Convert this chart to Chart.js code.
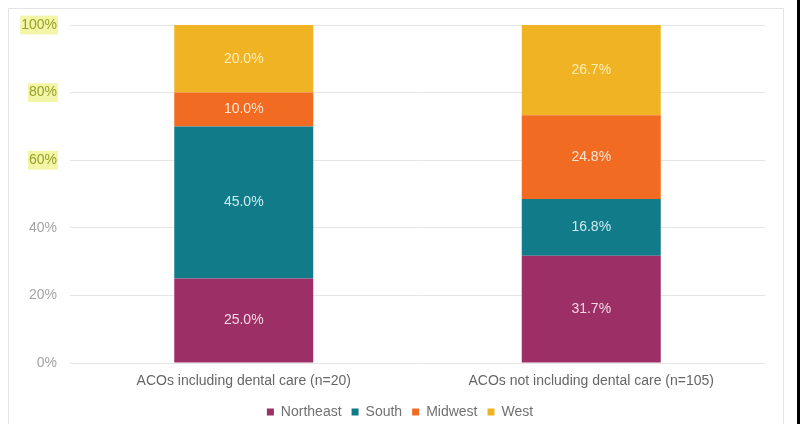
<!DOCTYPE html>
<html>
<head>
<meta charset="utf-8">
<script src="https://cdn.jsdelivr.net/npm/chart.js@4.4.1/dist/chart.umd.min.js"></script>
<style>
  html, body { margin: 0; padding: 0; background: #fff; }
  #wrap { width: 800px; height: 424px; position: relative; }
</style>
</head>
<body>
<div id="wrap"><canvas id="c" width="800" height="424"></canvas></div>
<script>
const categories = ['ACOs including dental care (n=20)', 'ACOs not including dental care (n=105)'];
const seriesNames = ['Northeast', 'South', 'Midwest', 'West'];
const northeast = [25.0, 31.7];
const south = [45.0, 16.8];
const midwest = [10.0, 24.8];
const west = [20.0, 26.7];
const yTicks = [0, 20, 40, 60, 80, 100];

const colors = ['#9B2F66', '#117B8A', '#F26B22', '#F0B323'];
const labelColors = ['rgba(255,235,245,0.9)', 'rgba(225,250,250,0.9)', 'rgba(255,240,225,0.92)', 'rgba(255,245,200,0.9)'];
const seriesValues = [northeast, south, midwest, west];

const FONT = '"Liberation Sans", Arial, sans-serif';

const framePlugin = {
  id: 'frame',
  beforeDraw(chart) {
    const ctx = chart.ctx;
    ctx.save();
    ctx.fillStyle = '#ffffff';
    ctx.fillRect(0, 0, chart.width, chart.height);
    ctx.strokeStyle = '#e4e4e4';
    ctx.lineWidth = 1;
    ctx.beginPath();
    ctx.moveTo(8.5, 430);
    ctx.lineTo(8.5, 8.5);
    ctx.lineTo(783.5, 8.5);
    ctx.lineTo(783.5, 430);
    ctx.stroke();
    ctx.fillStyle = '#000000';
    ctx.fillRect(797, 0, 3, chart.height);
    ctx.restore();
  }
};

const valueLabels = {
  id: 'valueLabels',
  afterDatasetsDraw(chart) {
    const ctx = chart.ctx;
    ctx.save();
    ctx.font = '14px ' + FONT;
    ctx.textAlign = 'center';
    ctx.textBaseline = 'middle';
    chart.data.datasets.forEach((ds, di) => {
      const meta = chart.getDatasetMeta(di);
      meta.data.forEach((bar, i) => {
        const v = ds.data[i];
        const y = (bar.y + bar.base) / 2;
        ctx.fillStyle = labelColors[di];
        ctx.fillText(v.toFixed(1) + '%', bar.x, y);
      });
    });
    ctx.restore();
  }
};

const highlighted = [60, 80, 100];

const chart = new Chart(document.getElementById('c'), {
  type: 'bar',
  data: {
    labels: categories,
    datasets: seriesNames.map((name, i) => ({
      label: name,
      data: seriesValues[i],
      backgroundColor: colors[i],
      borderWidth: 0,
      barPercentage: 0.8,
      categoryPercentage: 0.5
    }))
  },
  options: {
    responsive: false,
    animation: false,
    layout: { padding: { left: 0, right: 0, top: 25, bottom: 0 } },
    plugins: {
      legend: {
        position: 'bottom',
        labels: {
          boxWidth: 7,
          boxHeight: 7,
          padding: 10,
          color: '#707070',
          font: { family: FONT, size: 14 }
        }
      },
      tooltip: { enabled: false }
    },
    scales: {
      x: {
        stacked: true,
        afterFit(scale) { scale.height = 32; },
        grid: { display: false, drawTicks: false },
        border: { display: false },
        ticks: {
          color: '#666666',
          padding: 10,
          font: { family: FONT, size: 14 }
        }
      },
      y: {
        stacked: true,
        min: 0,
        max: 100,
        afterFit(scale) { scale.width = 70; },
        afterBuildTicks(scale) { scale.ticks = yTicks.map(v => ({ value: v })); },
        grid: { color: '#e6e6e6', drawTicks: false },
        border: { display: false },
        ticks: {
          padding: 13,
          font: { family: FONT, size: 14 },
          color: (c) => highlighted.includes(c.tick && c.tick.value) ? '#97a02a' : '#a3a3a3',
          showLabelBackdrop: (c) => highlighted.includes(c.tick && c.tick.value),
          backdropColor: '#f3f6a6',
          backdropPadding: 1,
          callback: (v) => v + '%'
        }
      },
      yRight: {
        position: 'right',
        display: true,
        min: 0,
        max: 100,
        afterFit(scale) { scale.width = 35; },
        grid: { display: false, drawTicks: false },
        border: { display: false },
        ticks: { display: false }
      }
    }
  },
  plugins: [framePlugin, valueLabels]
});

// Legend: keep horizontal item spacing but use a compact box height
const origFit = chart.legend.fit;
chart.legend.fit = function () {
  origFit.call(this);
  this.height = 29;
};
chart.update('none');
</script>
</body>
</html>
